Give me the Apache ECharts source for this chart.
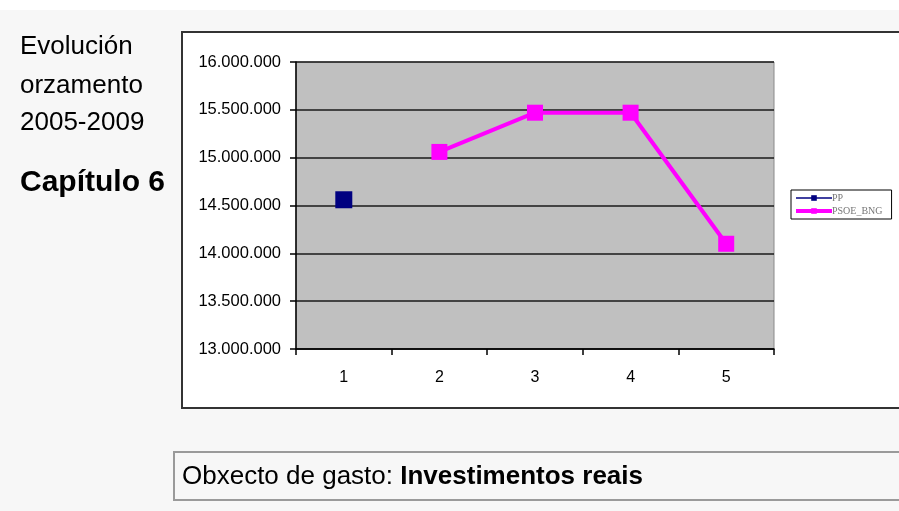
<!DOCTYPE html>
<html>
<head>
<meta charset="utf-8">
<script src="https://cdn.jsdelivr.net/npm/echarts@6/dist/echarts.min.js"></script>
<style>
html,body{margin:0;padding:0;background:#f7f7f7;}
#chart{width:899px;height:511px;}
</style>
</head>
<body>
<div id="chart"></div>
<script>
// ---- data ----
var categories = ['1', '2', '3', '4', '5'];
var seriesNames = ['PP', 'PSOE_BNG'];
var ppValues = [14560000, null, null, null, null];
var psoeValues = [null, 15060000, 15470000, 15470000, 14100000];
var yMin = 13000000, yMax = 16000000, yStep = 500000;
var titleLines = ['Evolución', 'orzamento', '2005-2009'];
var chapterText = 'Capítulo 6';
var footerLabel = 'Obxecto de gasto: ';
var footerValue = 'Investimentos reais';

function fmt(v) {
  return String(v).replace(/\B(?=(\d{3})+(?!\d))/g, '.');
}

var chart = echarts.init(document.getElementById('chart'), null, {renderer: 'canvas'});
var FONT = '"Liberation Sans", Arial, sans-serif';

var graphics = [
  {type: 'rect', z: -100, shape: {x: 0, y: 0, width: 899, height: 10}, style: {fill: '#ffffff'}},
  {type: 'rect', z: -90, shape: {x: 182, y: 32, width: 730, height: 376}, style: {fill: '#ffffff', stroke: '#333333', lineWidth: 2}},
  {type: 'rect', z: -90, shape: {x: 174, y: 452, width: 740, height: 48}, style: {fill: '#f7f7f7', stroke: '#9a9a9a', lineWidth: 2}}
];
var titleYs = [47, 86, 123];
titleLines.forEach(function (t, i) {
  graphics.push({type: 'text', z: 10, x: 20, y: titleYs[i],
    style: {text: t, font: '26px ' + FONT, fill: '#000', verticalAlign: 'middle', align: 'left'}});
});
graphics.push({type: 'text', z: 10, x: 20, y: 183,
  style: {text: chapterText, font: 'bold 30px ' + FONT, fill: '#000', verticalAlign: 'middle', align: 'left'}});
graphics.push({type: 'text', z: 10, x: 182, y: 477,
  style: {
    text: '{a|' + footerLabel + '}{b|' + footerValue + '}',
    verticalAlign: 'middle', align: 'left',
    rich: {
      a: {fontFamily: FONT, fontSize: 26, fill: '#000', color: '#000'},
      b: {fontFamily: FONT, fontSize: 26, fontWeight: 'bold', fill: '#000', color: '#000'}
    }
  }});

var option = {
  backgroundColor: '#f7f7f7',
  animation: false,
  graphic: {elements: graphics},
  grid: {
    left: 296, top: 62, right: 125, bottom: 162,
    show: true, backgroundColor: '#c0c0c0', borderColor: '#8a8a8a', borderWidth: 1,
    containLabel: false
  },
  legend: {
    orient: 'vertical',
    left: 791, top: 190,
    backgroundColor: '#ffffff',
    borderColor: '#000', borderWidth: 1,
    padding: [3, 9, 3, 3],
    itemGap: 3,
    itemWidth: 36, itemHeight: 7,
    textStyle: {fontFamily: '"Liberation Serif", serif', fontSize: 10, color: '#777', padding: [0, 0, 0, -5]},
    data: [
      {name: seriesNames[0], lineStyle: {width: 1.5}},
      {name: seriesNames[1], lineStyle: {width: 4}}
    ]
  },
  xAxis: {
    type: 'category',
    data: categories,
    boundaryGap: true,
    axisLine: {lineStyle: {color: '#000', width: 1.5}},
    axisTick: {show: true, length: 6, lineStyle: {color: '#000', width: 1.5}},
    axisLabel: {color: '#000', fontFamily: FONT, fontSize: 16, margin: 21},
    splitLine: {show: false}
  },
  yAxis: {
    type: 'value',
    min: yMin, max: yMax, interval: yStep,
    axisLine: {show: true, lineStyle: {color: '#000', width: 1.5}},
    axisTick: {show: true, length: 6, lineStyle: {color: '#000', width: 1.5}},
    axisLabel: {color: '#000', fontFamily: FONT, fontSize: 16.5, margin: 15, formatter: fmt},
    splitLine: {show: true, lineStyle: {color: '#1a1a1a', width: 1.5}}
  },
  series: [
    {
      name: seriesNames[0], type: 'line', data: ppValues,
      symbol: 'rect', symbolSize: 17, showSymbol: true,
      itemStyle: {color: '#000080'},
      lineStyle: {color: '#000080', width: 1.5},
      z: 5
    },
    {
      name: seriesNames[1], type: 'line', data: psoeValues,
      symbol: 'rect', symbolSize: 16, showSymbol: true,
      itemStyle: {color: '#ff00ff'},
      lineStyle: {color: '#ff00ff', width: 4},
      z: 6
    }
  ]
};
chart.setOption(option);
</script>
</body>
</html>
